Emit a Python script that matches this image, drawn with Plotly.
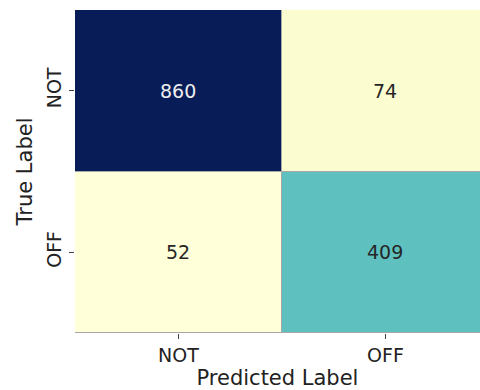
import plotly.graph_objects as go

# Confusion matrix: rows = true label, columns = predicted label
class_labels = ["NOT", "OFF"]
counts = [
    [860, 74],
    [52, 409],
]

# Matplotlib-style YlGnBu
ylgnbu = [
    [0.0, "#ffffd9"], [0.125, "#edf8b1"], [0.25, "#c7e9b4"],
    [0.375, "#7fcdbb"], [0.5, "#41b6c4"], [0.625, "#1d91c0"],
    [0.75, "#225ea8"], [0.875, "#253494"], [1.0, "#081d58"],
]

idx = list(range(len(class_labels)))
zmin = min(min(r) for r in counts)
zmax = max(max(r) for r in counts)

fig = go.Figure(
    go.Heatmap(
        z=counts,
        x=idx,
        y=idx,
        colorscale=ylgnbu,
        zmin=zmin,
        zmax=zmax,
        showscale=False,
        xgap=1,
        ygap=1,
        hoverinfo="skip",
    )
)

# Cell value labels, light text on dark cells
for i, row in enumerate(counts):
    for j, v in enumerate(row):
        frac = (v - zmin) / (zmax - zmin)
        fig.add_annotation(
            x=j, y=i, text=str(v), showarrow=False,
            font=dict(family="DejaVu Sans", size=19,
                      color="#eeeeee" if frac > 0.6 else "#262626"),
        )

fig.update_layout(
    width=480,
    height=390,
    margin=dict(l=75, r=0, t=10, b=57),
    paper_bgcolor="white",
    plot_bgcolor="#a8a8a8",
    font=dict(family="DejaVu Sans", color="#222222"),
)

fig.update_xaxes(
    range=[-0.5, 1.457],
    tickvals=idx,
    ticktext=class_labels,
    ticks="outside",
    ticklen=5,
    tickcolor="#444444",
    tickfont=dict(size=19),
    showgrid=False,
    zeroline=False,
    title=dict(text="Predicted Label", font=dict(size=21), standoff=6),
)
fig.update_yaxes(
    range=[1.5, -0.5],
    tickvals=idx,
    ticktext=class_labels,
    tickangle=-90,
    ticks="outside",
    ticklen=5,
    tickcolor="#444444",
    tickfont=dict(size=19),
    showgrid=False,
    zeroline=False,
    title=dict(text="True Label", font=dict(size=21), standoff=5),
)

fig.write_html("out.html")
